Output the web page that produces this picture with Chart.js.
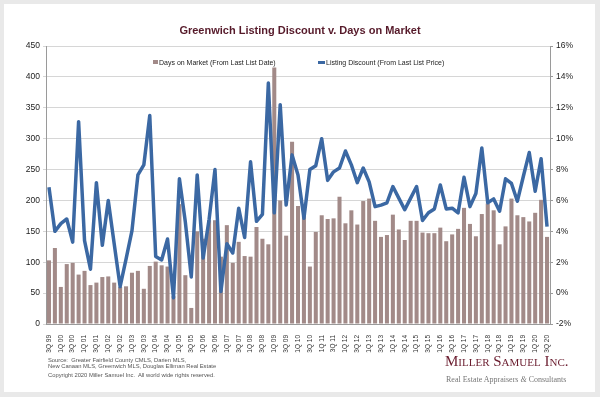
<!DOCTYPE html>
<html>
<head>
<meta charset="utf-8">
<script src="https://cdn.jsdelivr.net/npm/chart.js@4.4.0/dist/chart.umd.min.js"></script>
<style>
    body { margin: 0; background: #e9e9e9; width: 600px; height: 397px; overflow: hidden; position: relative; }
    #cartao { position: absolute; left: 4px; top: 4px; width: 591px; height: 388px; background: #fff; }
    #grafico { position: absolute; left: 0; top: 0; }
    .legenda { position: absolute; top: 58px; font: 7px "Liberation Sans", Arial, sans-serif; color: #222; white-space: nowrap; line-height: 9px; }
    .marcaBarra { display: inline-block; width: 5px; height: 4px; background: #a28a88; margin-right: 1px; vertical-align: 1px; }
    .marcaLinha { display: inline-block; width: 7px; height: 3px; background: #3b68a3; margin-right: 1px; vertical-align: 1px; }
    .fonte { position: absolute; left: 48px; font: 5.8px "Liberation Sans", Arial, sans-serif; color: #555; white-space: nowrap; line-height: 6px; }
    #logo { position: absolute; left: 445px; top: 353px; font: 15px "Liberation Serif", "Times New Roman", serif; font-variant: small-caps; color: #6b1d2f; white-space: nowrap; }
    #slogan { position: absolute; left: 446px; top: 375px; font: 8px "Liberation Serif", "Times New Roman", serif; color: #777; white-space: nowrap; }
</style>
</head>
<body>
<div id="cartao"></div>
<canvas id="grafico" width="600" height="397"></canvas>

<div class="legenda" style="left:153px"><span class="marcaBarra"></span>Days on Market (From Last List Date)</div>
<div class="legenda" style="left:318px"><span class="marcaLinha"></span>Listing Discount (From Last List Price)</div>

<div class="fonte" style="top:357px">Source:&nbsp; Greater Fairfield County CMLS, Darien MLS,</div>
<div class="fonte" style="top:363px">New Canaan MLS, Greenwich MLS, Douglas Elliman Real Estate</div>
<div class="fonte" style="top:372px">Copyright 2020 Miller Samuel Inc.&nbsp; All world wide rights reserved.</div>

<div id="logo">Miller Samuel Inc.</div>
<div id="slogan">Real Estate Appraisers <i>&amp;</i> Consultants</div>

<script>
// DADOS
const trimestres = [
    "3Q 99", "4Q 99",
    "1Q 00", "2Q 00", "3Q 00", "4Q 00",
    "1Q 01", "2Q 01", "3Q 01", "4Q 01",
    "1Q 02", "2Q 02", "3Q 02", "4Q 02",
    "1Q 03", "2Q 03", "3Q 03", "4Q 03",
    "1Q 04", "2Q 04", "3Q 04", "4Q 04",
    "1Q 05", "2Q 05", "3Q 05", "4Q 05",
    "1Q 06", "2Q 06", "3Q 06", "4Q 06",
    "1Q 07", "2Q 07", "3Q 07", "4Q 07",
    "1Q 08", "2Q 08", "3Q 08", "4Q 08",
    "1Q 09", "2Q 09", "3Q 09", "4Q 09",
    "1Q 10", "2Q 10", "3Q 10", "4Q 10",
    "1Q 11", "2Q 11", "3Q 11", "4Q 11",
    "1Q 12", "2Q 12", "3Q 12", "4Q 12",
    "1Q 13", "2Q 13", "3Q 13", "4Q 13",
    "1Q 14", "2Q 14", "3Q 14", "4Q 14",
    "1Q 15", "2Q 15", "3Q 15", "4Q 15",
    "1Q 16", "2Q 16", "3Q 16", "4Q 16",
    "1Q 17", "2Q 17", "3Q 17", "4Q 17",
    "1Q 18", "2Q 18", "3Q 18", "4Q 18",
    "1Q 19", "2Q 19", "3Q 19", "4Q 19",
    "1Q 20", "2Q 20", "3Q 20"
];

// Days on Market (From Last List Date)
const diasNoMercado = [
    103, 123,
    60, 97, 99, 80,
    86, 63, 67, 76,
    77, 67, 60, 61,
    83, 86, 57, 94,
    101, 95, 93, 45,
    194, 79, 26, 150,
    138, 168, 168, 109,
    160, 99, 133, 110,
    109, 157, 138, 129,
    415, 200, 143, 295,
    191, 175, 93, 149,
    176, 170, 171, 206,
    163, 184, 161, 199,
    203, 167, 141, 144,
    177, 153, 136, 167,
    167, 148, 147, 147,
    156, 134, 145, 154,
    188, 162, 142, 178,
    195, 184, 129, 158,
    203, 176, 173, 166,
    180, 201, 141
];

// Listing Discount (From Last List Price), em %
const descontoListagem = [
    6.85, 4.0,
    4.5, 4.8, 3.3, 11.1,
    3.4, 1.55, 7.15, 3.1,
    6.0, 3.2, 0.42, 2.2,
    4.05, 7.65, 8.3, 11.5,
    2.37, 2.15, 3.5, -0.3,
    7.4, 4.6, 1.05, 7.65,
    2.27, 4.75, 8.0, 0.1,
    3.2, 2.6, 5.5, 3.6,
    8.5, 4.65, 5.1, 13.6,
    5.2, 12.2, 5.7, 8.95,
    7.65, 4.85, 8.0, 8.25,
    10.0, 7.3, 7.85, 8.1,
    9.2, 8.3, 7.15, 8.1,
    7.2, 5.6, 5.7, 5.85,
    6.9, 6.15, 5.4, 6.15,
    6.9, 4.7, 5.2, 5.45,
    7.0, 5.45, 5.5, 5.2,
    7.5, 5.6, 6.45, 9.4,
    5.85, 6.1, 5.3, 7.4,
    7.1, 5.95, 7.55, 9.1,
    6.6, 8.7, 4.3
];

const nomesSeries = ["Days on Market (From Last List Date)", "Listing Discount (From Last List Price)"];

// GRAFICO
Chart.defaults.font.family = "'Liberation Sans', Arial, sans-serif";
Chart.defaults.color = "#222";

const ctx = document.getElementById("grafico");

let meuGrafico = new Chart(ctx, {
    type: "bar",
    data: {
        labels: trimestres,
        datasets: [
            {
                type: "bar",
                label: nomesSeries[0],
                data: diasNoMercado,
                backgroundColor: "#a28a88",
                categoryPercentage: 1,
                barPercentage: 0.68,
                yAxisID: "y",
                order: 2
            },
            {
                type: "line",
                label: nomesSeries[1],
                data: descontoListagem,
                borderColor: "#3b68a3",
                backgroundColor: "#3b68a3",
                borderWidth: 3.5,
                borderJoinStyle: "round",
                pointRadius: 0,
                tension: 0,
                yAxisID: "y1",
                order: 1
            }
        ]
    },
    options: {
        responsive: false,
        animation: false,
        devicePixelRatio: 1,
        layout: { padding: 0 },
        plugins: {
            legend: { display: false },
            tooltip: { enabled: false },
            title: {
                display: true,
                text: "Greenwich Listing Discount v. Days on Market",
                color: "#561a2a",
                font: { size: 11, weight: "bold" },
                padding: { top: 24.4, bottom: 8.4 }
            }
        },
        scales: {
            x: {
                offset: true,
                grid: { display: false },
                border: { display: true, color: "#9a9a9a" },
                ticks: {
                    autoSkip: false,
                    minRotation: 90,
                    maxRotation: 90,
                    padding: 3,
                    font: { size: 6.5 },
                    color: "#333",
                    callback: function (valor, i) { return i % 2 === 0 ? trimestres[i] : ""; }
                },
                afterFit: function (escala) { escala.height = 73; }
            },
            y: {
                position: "left",
                min: 0,
                max: 450,
                grid: { color: "#d6d6d6", tickLength: 3 },
                border: { display: true, color: "#9a9a9a" },
                ticks: { stepSize: 50, padding: 3, font: { size: 8.5 }, color: "#222" },
                afterFit: function (escala) { escala.width = 46; }
            },
            y1: {
                position: "right",
                min: -2,
                max: 16,
                grid: { drawOnChartArea: false, color: "#9a9a9a", tickLength: 3 },
                border: { display: true, color: "#9a9a9a" },
                ticks: {
                    stepSize: 2,
                    padding: 3,
                    font: { size: 8.5 },
                    color: "#222",
                    callback: function (valor) { return valor + "%"; }
                },
                afterFit: function (escala) { escala.width = 50; }
            }
        }
    }
});
</script>
</body>
</html>
